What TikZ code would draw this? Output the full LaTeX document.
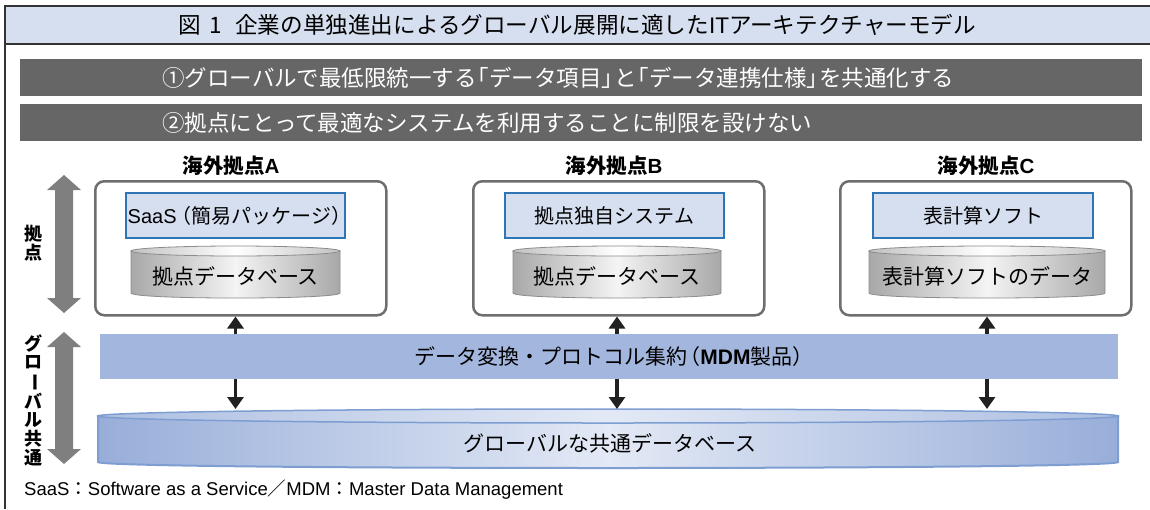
\documentclass[tikz,border=0pt]{standalone}
\usepackage{fontspec}
\usepackage{graphicx}
\setmainfont{Noto Sans CJK JP}
\newfontfamily\lat{Liberation Sans}
\usetikzlibrary{arrows.meta}
\definecolor{hdrblue}{HTML}{D6DFEF}
\definecolor{bargray}{HTML}{666666}
\definecolor{boxgray}{HTML}{6E6E6E}
\definecolor{appfill}{HTML}{D6DFF0}
\definecolor{appline}{HTML}{2E75B6}
\definecolor{mdmfill}{HTML}{A3B6DD}
\definecolor{gdbdark}{HTML}{98AED9}
\definecolor{gdblight}{HTML}{E3E9F5}
\definecolor{gdbline}{HTML}{7E9ED2}
\definecolor{fatgray}{HTML}{7F7F7F}
\definecolor{cyldark}{HTML}{A8A8A8}
\definecolor{cyllight}{HTML}{F4F4F4}
\definecolor{cylline}{HTML}{8C8C8C}
\definecolor{framec}{HTML}{333333}
\newcommand{\lbr}{\kern-0.45em「}
\newcommand{\rbr}{」\kern-0.45em}
\newcommand{\lpar}{\kern-0.4em（}
\newcommand{\rpar}{）\kern-0.4em}
\tikzset{
  darkbar/.style={fill=bargray, draw=none, minimum width=1122pt, minimum height=37pt, anchor=north west, inner sep=0pt},
  bartext/.style={text=white, font=\fontsize{22.5}{26}\selectfont, anchor=west, inner sep=0pt},
  sitebox/.style={draw=boxgray, line width=2.5pt, rounded corners=9pt, fill=white, minimum width=291pt, minimum height=134pt, anchor=north west},
  sitehead/.style={font=\bfseries\fontsize{20.5}{24}\selectfont, inner sep=0pt},
  appbox/.style={fill=appfill, draw=appline, line width=1.2pt, minimum height=45pt, inner sep=0pt, font=\fontsize{20}{24}\selectfont},
  cyltext/.style={font=\fontsize{21}{24}\selectfont, inner sep=0pt},
  cylbody/.style={draw=cylline, line width=0.8pt, left color=cyldark, right color=cyldark, middle color=cyllight},
  cyltop/.style={draw=cylline, line width=0.8pt, left color=cyldark!70!white, right color=cyldark!70!white, middle color=white},
  arr/.style={draw=black!87, line width=3.5pt, -{Triangle[length=12pt,width=16pt]}},
  fatarrow/.style={fill=fatgray, draw=none},
  vlab/.style={font=\bfseries\fontsize{18}{18.6}\selectfont, align=center, inner sep=0pt},
}
\begin{document}
\begin{tikzpicture}[x=1pt, y=-1pt]
\useasboundingbox (0,0) rectangle (1150,509);
% header and frame
\fill[hdrblue] (5,6) rectangle (1150,44);
\draw[framec, line width=1.5pt] (1150,6) -- (5,6) -- (5,509);
\draw[framec, line width=1.5pt] (5,44) -- (1150,44);
\node[font=\fontsize{22.6}{26}\selectfont, inner sep=0pt, anchor=west] (title) at (178,25) {図\hspace{9pt}1\hspace{13pt}企業の単独進出によるグローバル展開に適した{\lat IT}アーキテクチャーモデル};
% dark bars
\node[darkbar] (bar1) at (20,59) {};
\node[bartext] (t1) at ([xshift=142pt]bar1.west) {①グローバルで最低限統一する\lbr データ項目\rbr と\lbr データ連携仕様\rbr を共通化する};
\node[darkbar] (bar2) at (20,104) {};
\node[bartext] (t2) at ([xshift=142pt]bar2.west) {②拠点にとって最適なシステムを利用することに制限を設けない};
% site boxes
\node[sitebox] (siteA) at (94,180) {};
\node[sitebox] (siteB) at (472,180) {};
\node[sitebox] (siteC) at (839,180) {};
\node[sitehead] (hA) at (231,166) {海外拠点{\lat\bfseries A}};
\node[sitehead] (hB) at (614,166) {海外拠点{\lat\bfseries B}};
\node[sitehead] (hC) at (986,166) {海外拠点{\lat\bfseries C}};
% app boxes
\node[appbox, minimum width=219pt] (appA) at (235.5,215.5) {{\lat SaaS}\hspace{3pt}\lpar 簡易パッケージ\rpar};
\node[appbox, minimum width=219pt] (appB) at (614.5,215.5) {拠点独自システム};
\node[appbox, minimum width=220pt] (appC) at (983,215.5) {表計算ソフト};
% cylinders
\path[cylbody] (131,251) -- (131,293) .. controls (131,299.7) and (340,299.7) .. (340,293) -- (340,251) -- cycle;
\path[cyltop] (235.5,251) ellipse [x radius=104.5, y radius=5];
\node[cyltext] (dbA) at (235.5,276) {拠点データベース};
\path[cylbody] (513,251) -- (513,293) .. controls (513,299.7) and (721,299.7) .. (721,293) -- (721,251) -- cycle;
\path[cyltop] (617,251) ellipse [x radius=104, y radius=5];
\node[cyltext] (dbB) at (617,276) {拠点データベース};
\path[cylbody] (869,251) -- (869,293) .. controls (869,299.7) and (1105,299.7) .. (1105,293) -- (1105,251) -- cycle;
\path[cyltop] (987,251) ellipse [x radius=118, y radius=5];
\node[cyltext] (dbC) at (987,276) {表計算ソフトのデータ};
% MDM bar
\node[fill=mdmfill, minimum width=1018pt, minimum height=45pt, inner sep=0pt, anchor=north west] (mdm) at (100,334) {};
\node[font=\fontsize{21}{24}\selectfont, inner sep=0pt] (mdmt) at (610,356.5) {データ変換・プロトコル集約\lpar{\lat\bfseries MDM}製品\rpar};
% global DB
\path[draw=gdbline, line width=2pt, left color=gdbdark, right color=gdbdark, middle color=gdblight] (98,416) -- (98,462) .. controls (98,470) and (1118,470) .. (1118,462) -- (1118,416) -- cycle;
\path[draw=gdbline, line width=1.5pt, left color=gdbdark!80!white, right color=gdbdark!80!white, middle color=gdblight] (608,416) ellipse [x radius=510, y radius=7];
\coordinate (gdbtop) at (608,409);
\node[font=\fontsize{21}{24}\selectfont, inner sep=0pt] (gdb) at (610,443) {グローバルな共通データベース};
% arrows
\foreach \d/\s in {dbA/siteA, dbB/siteB, dbC/siteC}{
  \draw[arr] (mdm.north -| \d) -- (\s.south -| \d);
  \draw[arr] (mdm.south -| \d) -- (gdbtop -| \d);
}
% fat double arrows
\path[fatarrow] (64,175) -- (81,190) -- (73,190) -- (73,298) -- (81,298) -- (64,313) -- (47,298) -- (55,298) -- (55,190) -- (47,190) -- cycle;
\path[fatarrow] (64,332) -- (81,347) -- (73,347) -- (73,449) -- (81,449) -- (64,464) -- (47,449) -- (55,449) -- (55,347) -- (47,347) -- cycle;
\node[vlab] (v1) at (33,243) {拠\\点};
\node[vlab] (v2) at (33,400) {グ\\ロ\\\rotatebox[origin=c]{-90}{ー}\\バ\\ル\\共\\通};
% footnote
\node[font=\fontsize{18.5}{22}\selectfont, anchor=west, inner sep=0pt] (fn) at (24,490) {{\lat SaaS}：{\lat Software as a Service}／{\lat MDM}：{\lat Master Data Management}};
\end{tikzpicture}
\end{document}
